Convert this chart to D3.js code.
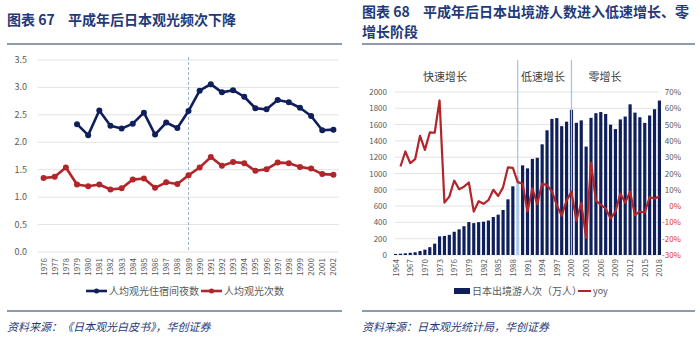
<!DOCTYPE html>
<html>
<head>
<meta charset="utf-8">
<script src="https://cdn.jsdelivr.net/npm/d3@7"></script>
<style>
  body { margin: 0; background: #fff; }
  svg text { font-family: "Noto Sans CJK SC", "Noto Sans", sans-serif; }
</style>
</head>
<body>
<svg id="chart" width="700" height="337"></svg>
<script>
// 左图：1976-2002 人均观光住宿间夜数 / 人均观光次数
const yearsL = d3.range(1976, 2003);
const nights = [null, null, null, 2.33, 2.13, 2.58, 2.30, 2.25, 2.34, 2.54, 2.14, 2.36, 2.26,
  2.57, 2.94, 3.06, 2.91, 2.95, 2.83, 2.62, 2.60, 2.77, 2.73, 2.63, 2.48, 2.22, 2.23];
const trips = [1.35, 1.37, 1.54, 1.23, 1.20, 1.23, 1.14, 1.16, 1.32, 1.34, 1.17, 1.27, 1.24,
  1.40, 1.54, 1.73, 1.57, 1.64, 1.62, 1.48, 1.51, 1.63, 1.62, 1.55, 1.52, 1.42, 1.41];
const ticksL = [0, 0.5, 1.0, 1.5, 2.0, 2.5, 3.0, 3.5];

// 右图：1964-2018 日本出境游人次（万人）及 yoy
const yearsR = d3.range(1964, 2019);
const outbound = [13, 16, 21, 27, 34, 49, 66, 96, 139, 229, 234, 247, 285, 315, 353, 404, 391,
  403, 409, 423, 466, 495, 552, 683, 843, 966, 1100, 1063, 1179, 1193, 1358, 1530, 1670, 1680,
  1581, 1636, 1782, 1622, 1652, 1330, 1683, 1740, 1754, 1730, 1599, 1545, 1664, 1699, 1849,
  1747, 1690, 1621, 1712, 1789, 1895];
const yoy = [null, 24.3, 33.5, 26.4, 28.8, 43.1, 34.5, 45.2, 45.0, 64.8, 2.1, 5.8, 15.7, 10.4,
  11.9, 14.5, -3.4, 3.0, 1.4, 3.6, 10.0, 6.2, 11.5, 23.8, 23.4, 14.7, 13.8, -3.3, 10.9, 1.2,
  13.8, 12.7, 9.1, 0.6, -5.9, 3.5, 8.9, -9.0, 1.9, -19.5, 26.6, 3.4, 0.8, -1.4, -7.6, -3.4,
  7.7, 2.1, 8.8, -5.5, -3.3, -4.1, 5.6, 4.5, 6.0];
const ticksR = d3.range(0, 2001, 200);
const ticksPct = d3.range(-30, 71, 10);
const phases = [
  { name: '快速增长', x: 445 },
  { name: '低速增长', x: 543 },
  { name: '零增长', x: 605 }
];
const phaseYears = [1989, 2000];

const navy = '#0f1f5c';
const red = '#b0262a';
const titleColor = '#1f3a78';
const tickColor = '#595959';

const svg = d3.select('#chart');

// 标题、分隔线、资料来源
function frame(x0, x1, label, titleLines, y0, source) {
  svg.append('text')
    .attr('x', x0).attr('y', y0)
    .attr('fill', titleColor).attr('font-size', 14).attr('font-weight', 'bold')
    .text(label);
  titleLines.forEach((t, i) => {
    svg.append('text')
      .attr('x', i === 0 ? x0 + 61 : x0).attr('y', y0 + i * 20)
      .attr('fill', titleColor)
      .attr('font-size', 14).attr('font-weight', 'bold')
      .text(t);
  });
  svg.append('line').attr('x1', x0).attr('x2', x1).attr('y1', 44).attr('y2', 44)
    .attr('stroke', '#6b7793').attr('stroke-width', 1.5);
  svg.append('line').attr('x1', x0).attr('x2', x1).attr('y1', 311).attr('y2', 311)
    .attr('stroke', '#6b7793').attr('stroke-width', 1.5);
  svg.append('text').attr('x', x0).attr('y', 331)
    .attr('fill', titleColor).attr('font-size', 11).attr('font-style', 'italic')
    .text(source);
}

frame(7, 342, '图表 67', ['平成年后日本观光频次下降'], 25, '资料来源：《日本观光白皮书》，华创证券');
frame(362, 695, '图表 68', ['平成年后日本出境游人数进入低速增长、零', '增长阶段'], 17, '资料来源：日本观光统计局，华创证券');

// ---------- 左图 ----------
const xL = d3.scaleBand().domain(yearsL).range([38, 339]);
const yL = d3.scaleLinear().domain([0, 3.5]).range([252, 60]);

const gL = svg.append('g');
gL.selectAll('.grid').data(ticksL).enter().append('line')
  .attr('x1', 38).attr('x2', 339)
  .attr('y1', d => yL(d)).attr('y2', d => yL(d))
  .attr('stroke', '#e3e3e3').attr('stroke-width', 1);
gL.selectAll('.ytick').data(ticksL).enter().append('text')
  .attr('x', 27).attr('y', d => yL(d) + 3)
  .attr('text-anchor', 'end').attr('font-size', 9).attr('fill', tickColor)
  .text(d => d.toFixed(1));

gL.selectAll('.xtick').data(yearsL).enter().append('text')
  .attr('transform', d => `translate(${xL(d) + xL.bandwidth() / 2 + 3},258) rotate(-90)`)
  .attr('text-anchor', 'end').attr('font-size', 8).attr('fill', tickColor)
  .text(d => d);

// 1989 平成元年虚线
gL.append('line')
  .attr('x1', xL(1989) + xL.bandwidth() / 2).attr('x2', xL(1989) + xL.bandwidth() / 2)
  .attr('y1', 57).attr('y2', 252)
  .attr('stroke', '#9fb3c8').attr('stroke-dasharray', '3,2').attr('stroke-width', 1);

const seriesL = [
  { values: nights, color: navy },
  { values: trips, color: red }
];
seriesL.forEach(s => {
  const pts = yearsL.map((y, i) => ({ year: y, v: s.values[i] })).filter(p => p.v != null);
  const line = d3.line().x(p => xL(p.year) + xL.bandwidth() / 2).y(p => yL(p.v));
  gL.append('path').datum(pts).attr('d', line)
    .attr('fill', 'none').attr('stroke', s.color).attr('stroke-width', 2.6)
    .attr('stroke-linejoin', 'round');
  gL.selectAll(null).data(pts).enter().append('circle')
    .attr('cx', p => xL(p.year) + xL.bandwidth() / 2).attr('cy', p => yL(p.v))
    .attr('r', 3).attr('fill', s.color);
});

// 左图图例
const legL = [
  { label: '人均观光住宿间夜数', color: navy, x: 86 },
  { label: '人均观光次数', color: red, x: 201 }
];
legL.forEach(l => {
  gL.append('line').attr('x1', l.x).attr('x2', l.x + 21).attr('y1', 291).attr('y2', 291)
    .attr('stroke', l.color).attr('stroke-width', 2.6);
  gL.append('circle').attr('cx', l.x + 10.5).attr('cy', 291).attr('r', 2.5).attr('fill', l.color);
  gL.append('text').attr('x', l.x + 23).attr('y', 295)
    .attr('font-size', 10).attr('fill', tickColor).text(l.label);
});

// ---------- 右图 ----------
const xR = d3.scaleBand().domain(yearsR).range([394, 661]).paddingInner(0.35);
const yR = d3.scaleLinear().domain([0, 2000]).range([255, 92]);
const yP = d3.scaleLinear().domain([-30, 70]).range([255, 92]);
const cx = d => xR(d) + xR.bandwidth() / 2;

const gR = svg.append('g');
gR.selectAll('.grid').data(ticksR).enter().append('line')
  .attr('x1', 395).attr('x2', 659)
  .attr('y1', d => yR(d)).attr('y2', d => yR(d))
  .attr('stroke', '#e3e3e3').attr('stroke-width', 1);
gR.selectAll('.ytick').data(ticksR).enter().append('text')
  .attr('x', 387).attr('y', d => yR(d) + 3)
  .attr('text-anchor', 'end').attr('font-size', 8).attr('fill', tickColor)
  .text(d => d);
gR.selectAll('.ptick').data(ticksPct).enter().append('text')
  .attr('x', 681).attr('y', d => yP(d) + 3)
  .attr('text-anchor', 'end').attr('font-size', 8)
  .attr('fill', d => d <= 0 ? '#e0332f' : tickColor)
  .text(d => d + '%');

gR.selectAll('.bar').data(yearsR).enter().append('rect')
  .attr('x', d => xR(d)).attr('width', xR.bandwidth())
  .attr('y', (d, i) => yR(outbound[i]))
  .attr('height', (d, i) => yR(0) - yR(outbound[i]))
  .attr('fill', d => d === 1989 ? '#b7d3ec' : navy);

// 阶段分界线
gR.selectAll('.phase').data(phaseYears).enter().append('line')
  .attr('x1', d => cx(d)).attr('x2', d => cx(d))
  .attr('y1', 60).attr('y2', 255)
  .attr('stroke', '#9dc3e6').attr('stroke-width', 1.2);
gR.selectAll('.phaseLabel').data(phases).enter().append('text')
  .attr('x', d => d.x).attr('y', 81)
  .attr('text-anchor', 'middle').attr('font-size', 11).attr('fill', '#404040')
  .text(d => d.name);

const yoyPts = yearsR.map((y, i) => ({ year: y, v: yoy[i] })).filter(p => p.v != null);
gR.append('path').datum(yoyPts)
  .attr('d', d3.line().x(p => cx(p.year)).y(p => yP(p.v)))
  .attr('fill', 'none').attr('stroke', red).attr('stroke-width', 2.2)
  .attr('stroke-linejoin', 'round');

gR.selectAll('.xtick').data(yearsR.filter(y => (y - 1964) % 3 === 0)).enter().append('text')
  .attr('transform', d => `translate(${cx(d) + 3},259) rotate(-90)`)
  .attr('text-anchor', 'end').attr('font-size', 8).attr('fill', tickColor)
  .text(d => d);

// 右图图例
gR.append('rect').attr('x', 454).attr('y', 288).attr('width', 16).attr('height', 6).attr('fill', navy);
gR.append('text').attr('x', 472).attr('y', 295).attr('font-size', 10).attr('fill', tickColor)
  .text('日本出境游人次（万人）');
gR.append('line').attr('x1', 578).attr('x2', 591).attr('y1', 291).attr('y2', 291)
  .attr('stroke', red).attr('stroke-width', 2);
gR.append('text').attr('x', 593).attr('y', 294).attr('font-size', 9).attr('fill', tickColor)
  .text('yoy');
</script>
</body>
</html>
